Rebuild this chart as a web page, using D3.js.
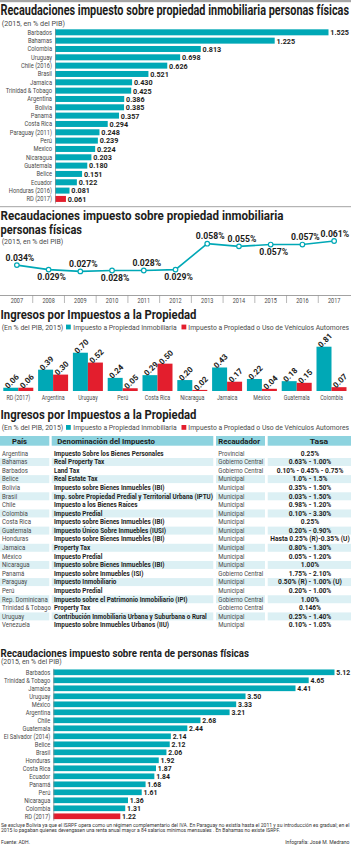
<!DOCTYPE html>
<html lang="es">
<head>
<meta charset="utf-8">
<title>Impuestos a la propiedad</title>
<script src="https://cdn.jsdelivr.net/npm/d3@7"></script>
<style>
  body { margin: 0; background: #fff; }
  svg { display: block; font-family: Roboto, "Liberation Sans", sans-serif; }
</style>
</head>
<body>
<svg id="drawing_region"></svg>
<script>
// Recaudaciones impuesto sobre propiedad inmobiliaria personas fisicas (2015, % PIB)
const propCountries = ['Barbados', 'Bahamas', 'Colombia', 'Uruguay', 'Chile (2016)', 'Brasil', 'Jamaica',
    'Trinidad & Tobago', 'Argentina', 'Bolivia', 'Panamá', 'Costa Rica', 'Paraguay (2011)', 'Perú', 'Mexico',
    'Nicaragua', 'Guatemala', 'Belice', 'Ecuador', 'Honduras (2016)', 'RD (2017)'];
const propValues = [1.525, 1.225, 0.813, 0.698, 0.626, 0.521, 0.430, 0.425, 0.386, 0.385, 0.357,
    0.294, 0.248, 0.239, 0.224, 0.203, 0.180, 0.151, 0.122, 0.081, 0.061];

// serie RD
const rdYears = ['2007', '2008', '2009', '2010', '2011', '2012', '2013', '2014', '2015', '2016', '2017'];
const rdValues = [0.034, 0.029, 0.027, 0.028, 0.028, 0.029, 0.058, 0.055, 0.057, 0.057, 0.061];
const rdLabelSide = ['up', 'down', 'up', 'down', 'up', 'down', 'up', 'up', 'down', 'up', 'up'];

// Ingresos por impuestos a la propiedad (2015, % PIB)
const ingCountries = ['RD (2017)', 'Argentina', 'Uruguay', 'Perú', 'Costa Rica', 'Nicaragua', 'Jamaica', 'México', 'Guatemala', 'Colombia'];
const ingInmobiliaria = [0.06, 0.39, 0.70, 0.24, 0.29, 0.20, 0.43, 0.22, 0.18, 0.81];
const ingVehiculos = [0.06, 0.30, 0.52, 0.05, 0.50, 0.02, 0.17, 0.04, 0.15, 0.07];
const ingSeries = ['Impuesto a Propiedad Inmobiliaria', 'Impuesto a Propiedad o Uso de Vehículos Automores'];

// tabla
const tableHeader = ['País', 'Denominación del Impuesto', 'Recaudador', 'Tasa'];
const tablePais = ['Argentina', 'Bahamas', 'Barbados', 'Belice', 'Bolivia', 'Brasil', 'Chile', 'Colombia',
    'Costa Rica', 'Guatemala', 'Honduras', 'Jamaica', 'México', 'Nicaragua', 'Panamá', 'Paraguay', 'Perú',
    'Rep. Dominicana', 'Trinidad & Tobago', 'Uruguay', 'Venezuela'];
const tableImpuesto = ['Impuesto Sobre los Bienes Personales', 'Real Property Tax', 'Land Tax', 'Real Estate Tax',
    'Impuesto sobre Bienes Inmuebles (IBI)', 'Imp. sobre Propiedad Predial y Territorial Urbana (IPTU)',
    'Impuesto a los Bienes Raíces', 'Impuesto Predial', 'Impuesto sobre Bienes Inmuebles (IBI)',
    'Impuesto Único Sobre Inmuebles (IUSI)', 'Impuesto sobre Bienes Inmuebles (IBI)', 'Property Tax',
    'Impuesto Predial', 'Impuesto sobre Bienes Inmuebles (IBI)', 'Impuesto sobre Inmuebles (ISI)',
    'Impuesto Inmobiliario', 'Impuesto Predial', 'Impuesto sobre el Patrimonio Inmobiliario (IPI)',
    'Property Tax', 'Contribución Inmobiliaria Urbana y Suburbana o Rural', 'Impuesto sobre Inmuebles Urbanos (IIU)'];
const tableRecaudador = ['Provincial', 'Gobierno Central', 'Gobierno Central', 'Municipal', 'Municipal', 'Municipal',
    'Municipal', 'Municipal', 'Municipal', 'Municipal', 'Municipal', 'Municipal', 'Municipal', 'Municipal',
    'Gobierno Central', 'Municipal', 'Municipal', 'Gobierno Central', 'Gobierno Central', 'Municipal', 'Municipal'];
const tableTasa = ['0.25%', '0.63% - 1.00%', '0.10% - 0.45% - 0.75%', '1.0% - 1.5%', '0.35% - 1.50%', '0.03% - 1.50%',
    '0.98% - 1.20%', '0.10% - 3.30%', '0.25%', '0.20% - 0.90%', 'Hasta 0.25% (R)-0.35% (U)', '0.80% - 1.30%',
    '0.05% - 1.20%', '1.00%', '1.75% - 2.10%', '0.50% (R) - 1.00% (U)', '0.20% - 1.00%', '1.00%', '0.146%',
    '0.25% - 1.40%', '0.10% - 1.05%'];

// Recaudaciones impuesto sobre renta de personas fisicas (2015, % PIB)
const rentaCountries = ['Barbados', 'Trinidad & Tobago', 'Jamaica', 'Uruguay', 'México', 'Argentina', 'Chile',
    'Guatemala', 'El Salvador (2014)', 'Belice', 'Brasil', 'Honduras', 'Costa Rica', 'Ecuador', 'Panamá', 'Perú',
    'Nicaragua', 'Colombia', 'RD (2017)'];
const rentaValues = [5.12, 4.65, 4.41, 3.50, 3.33, 3.21, 2.68, 2.44, 2.14, 2.12, 2.06, 1.92, 1.87, 1.84, 1.68,
    1.61, 1.36, 1.31, 1.22];

const W = 351, H = 854;
const TEAL = '#00a8b6', RED = '#e31e2d', INK = '#1d1d1b', GREY = '#4a4a4a';
const HIGHLIGHT = 'RD (2017)';

const svg = d3.select('#drawing_region')
    .attr('width', W)
    .attr('height', H);

// narrow the glyphs a bit, the original uses a condensed face
function squeeze(sel, k) {
    sel.each(function () {
        const w = this.getComputedTextLength();
        d3.select(this).attr('textLength', w * k).attr('lengthAdjust', 'spacingAndGlyphs');
    });
    return sel;
}

function addText(x, y, str, o) {
    const t = svg.append('text')
        .attr('x', x)
        .attr('y', y)
        .attr('font-size', o.size)
        .attr('font-weight', o.weight || 'normal')
        .attr('fill', o.fill || INK)
        .attr('text-anchor', o.anchor || 'start')
        .text(str);
    if (o.width) t.attr('textLength', o.width).attr('lengthAdjust', 'spacingAndGlyphs');
    return t;
}

class HBarChart {

    constructor(config, names, values) {
        this.config = config;
        this.data = names.map((n, i) => ({ name: n, value: values[i] }));
        this.init();
    }

    init() {
        let self = this;
        const c = self.config;

        self.yscale = d3.scaleBand()
            .domain(self.data.map(d => d.name))
            .range([c.top, c.bottom])
            .paddingInner(c.pad)
            .paddingOuter(c.pad / 2);

        self.xscale = d3.scaleLinear()
            .domain([0, d3.max(self.data, d => d.value)])
            .range([c.left, c.right]);

        self.chart = svg.append('g');
    }

    render() {
        let self = this;
        const c = self.config;

        self.chart.selectAll('rect')
            .data(self.data)
            .join('rect')
            .attr('x', self.xscale(0))
            .attr('y', d => self.yscale(d.name))
            .attr('width', d => self.xscale(d.value) - self.xscale(0))
            .attr('height', self.yscale.bandwidth())
            .attr('fill', d => d.name === HIGHLIGHT ? RED : TEAL);

        const vals = self.chart.selectAll('text.value')
            .data(self.data)
            .join('text')
            .attr('class', 'value')
            .attr('x', d => self.xscale(d.value) + 1.8)
            .attr('y', d => self.yscale(d.name) + self.yscale.bandwidth() / 2)
            .attr('dy', '0.36em')
            .attr('font-size', c.valueSize)
            .attr('font-weight', 'bold')
            .attr('fill', INK)
            .text(d => d3.format(c.format)(d.value));
        squeeze(vals, c.valueSqueeze);

        const ag = self.chart.append('g')
            .attr('transform', `translate(${self.xscale(0)},0)`)
            .call(d3.axisLeft(self.yscale).tickSize(0).tickSizeOuter(0).tickPadding(3))
            .attr('font-family', null)
            .attr('font-size', null);
        ag.select('.domain').attr('stroke', '#8a8a8a').attr('stroke-width', 0.7);
        const ticks = ag.selectAll('.tick text')
            .attr('font-size', c.labelSize)
            .attr('fill', GREY);
        squeeze(ticks, c.labelSqueeze);
    }
}

// top rule
svg.append('rect').attr('x', 0).attr('y', 0).attr('width', W).attr('height', 2.2).attr('fill', '#a6a6a6');

// ---------- chart 1
addText(0.5, 15, 'Recaudaciones impuesto sobre propiedad inmobiliaria personas físicas', { size: 14, weight: 'bold', width: 348.5 });
addText(1.7, 25.6, '(2015, en % del PIB)', { size: 7, fill: GREY, width: 63.3 });

const propChart = new HBarChart({
    top: 28.15, bottom: 203.1, left: 55, right: 328.5, pad: 0.28,
    format: '.3f', valueSize: 8, valueSqueeze: 0.9, labelSize: 7, labelSqueeze: 0.82
}, propCountries, propValues);
propChart.render();

svg.append('line')
    .attr('x1', 0).attr('x2', W).attr('y1', 206.7).attr('y2', 206.7)
    .attr('stroke', '#8a8a8a').attr('stroke-width', 0.8);

// ---------- chart 2 : serie RD
addText(0.5, 220, 'Recaudaciones impuesto sobre propiedad inmobiliaria', { size: 12.2, weight: 'bold', width: 283 });
addText(0.5, 233.5, 'personas físicas', { size: 12.2, weight: 'bold', width: 81.5 });
addText(1.7, 243.6, '(2015, en % del PIB)', { size: 7, fill: GREY, width: 61.6 });

const lx = d3.scaleBand().domain(rdYears).range([1, 350]);
const ly = d3.scaleLinear().domain([0, d3.max(rdValues)]).range([295.5, 241]);
const rdData = rdYears.map((y, i) => ({ year: y, value: rdValues[i], side: rdLabelSide[i] }));
const cx = d => lx(d.year) + lx.bandwidth() / 2;

svg.append('line')
    .attr('x1', 0).attr('x2', W).attr('y1', 295.5).attr('y2', 295.5)
    .attr('stroke', '#8a8a8a').attr('stroke-width', 0.8);
svg.append('g').selectAll('line')
    .data(rdYears.slice(1))
    .join('line')
    .attr('x1', d => lx(d)).attr('x2', d => lx(d))
    .attr('y1', 295.5).attr('y2', 303)
    .attr('stroke', '#8a8a8a').attr('stroke-width', 0.6);

const lax = svg.append('g')
    .attr('transform', 'translate(0,295.5)')
    .call(d3.axisBottom(lx).tickSize(0).tickPadding(2.6))
    .attr('font-family', null)
    .attr('font-size', null);
lax.select('.domain').remove();
squeeze(lax.selectAll('.tick text').attr('font-size', 6.5).attr('fill', GREY), 0.85);

const line = d3.line()
    .x(cx)
    .y(d => ly(d.value));

svg.append('path')
    .attr('d', line(rdData))
    .attr('fill', 'none')
    .attr('stroke', TEAL)
    .attr('stroke-width', 1.6);

svg.append('g').selectAll('circle')
    .data(rdData)
    .join('circle')
    .attr('cx', cx)
    .attr('cy', d => ly(d.value))
    .attr('r', 2.3)
    .attr('fill', '#fff')
    .attr('stroke', TEAL)
    .attr('stroke-width', 1.2);

const rdLabels = svg.append('g').selectAll('text')
    .data(rdData)
    .join('text')
    .attr('x', d => cx(d) + 3)
    .attr('y', d => d.side === 'up' ? ly(d.value) - 4.5 : ly(d.value) + 10.6)
    .attr('text-anchor', 'middle')
    .attr('font-size', 9)
    .attr('font-weight', 'bold')
    .attr('fill', INK)
    .text(d => d3.format('.3f')(d.value) + '%');
squeeze(rdLabels, 0.96);
rdLabels.each(function () {
    const b = this.getBBox();
    if (b.x + b.width > 349.5) d3.select(this).attr('x', +d3.select(this).attr('x') - (b.x + b.width - 349.5));
});

// ---------- chart 3 : ingresos por impuestos a la propiedad
function legend(y) {
    addText(1.7, y, '(En % del PIB, 2015)', { size: 7, fill: GREY, width: 61.6 });
    svg.append('rect').attr('x', 66).attr('y', y - 5.2).attr('width', 4.8).attr('height', 4.8).attr('fill', TEAL);
    addText(73.3, y, ingSeries[0], { size: 7, fill: GREY, width: 103.4 });
    svg.append('rect').attr('x', 181.5).attr('y', y - 5.2).attr('width', 4.8).attr('height', 4.8).attr('fill', RED);
    addText(188.3, y, ingSeries[1], { size: 7, fill: GREY, width: 160.7 });
}

addText(0.5, 319.3, 'Ingresos por Impuestos a la Propiedad', { size: 12.5, weight: 'bold', width: 196 });
legend(329.8);

const gx0 = d3.scaleBand().domain(ingCountries).range([0.9, 348.9]).paddingInner(0.138).paddingOuter(0.069);
const gx1 = d3.scaleBand().domain(['inmob', 'vehic']).range([0, gx0.bandwidth()]);
const gy = d3.scaleLinear().domain([0, d3.max(ingInmobiliaria.concat(ingVehiculos))]).range([391, 346.7]);
const gColor = d3.scaleOrdinal().domain(['inmob', 'vehic']).range([TEAL, RED]);

const ingData = ingCountries.map((c, i) => ({
    country: c,
    bars: [{ key: 'inmob', value: ingInmobiliaria[i] }, { key: 'vehic', value: ingVehiculos[i] }]
}));

const groups = svg.append('g').selectAll('g')
    .data(ingData)
    .join('g')
    .attr('transform', d => `translate(${gx0(d.country)},0)`);

groups.selectAll('rect')
    .data(d => d.bars)
    .join('rect')
    .attr('x', d => gx1(d.key))
    .attr('y', d => gy(d.value))
    .attr('width', gx1.bandwidth())
    .attr('height', d => gy(0) - gy(d.value))
    .attr('fill', d => gColor(d.key));

groups.selectAll('text')
    .data(d => d.bars)
    .join('text')
    .attr('transform', d => `translate(${gx1(d.key) + gx1.bandwidth() / 2 + 1},${gy(d.value) - 6.5}) rotate(-45)`)
    .attr('text-anchor', 'middle')
    .attr('dy', '0.36em')
    .attr('font-size', 8)
    .attr('font-weight', 'bold')
    .attr('fill', INK)
    .text(d => d3.format('.2f')(d.value));

const gax = svg.append('g')
    .attr('transform', `translate(0,${gy(0)})`)
    .call(d3.axisBottom(gx0).tickSize(0).tickPadding(4))
    .attr('font-family', null)
    .attr('font-size', null);
gax.select('.domain').remove();
squeeze(gax.selectAll('.tick text').attr('font-size', 6.5).attr('fill', GREY), 0.82);

// ---------- tabla
addText(0.5, 419, 'Ingresos por Impuestos a la Propiedad', { size: 12.5, weight: 'bold', width: 196 });
legend(430.2);

const colX = [[0, 49.3], [51.7, 213.3], [216, 265], [267.7, 351]];
const headerTextX = [12, 57.3, 218.3, 319];
const headerWidth = [15, 97.7, 41.7, 18.3];

svg.append('g').selectAll('rect')
    .data(colX)
    .join('rect')
    .attr('x', d => d[0]).attr('y', 436)
    .attr('width', d => d[1] - d[0]).attr('height', 9.7)
    .attr('fill', '#8dd3df');

tableHeader.forEach((h, i) => {
    addText(headerTextX[i], 443.8, h, {
        size: 8, weight: 'bold', width: headerWidth[i], anchor: i === 3 ? 'middle' : 'start'
    });
});

const rowY = d3.scaleBand()
    .domain(d3.range(tablePais.length))
    .range([449.1, 449.1 + 8.58 * tablePais.length]);

const rows = tablePais.map((p, i) => ({ i: i, cells: [p, tableImpuesto[i], tableRecaudador[i], tableTasa[i]] }));

const rowG = svg.append('g').selectAll('g')
    .data(rows)
    .join('g')
    .attr('transform', d => `translate(0,${rowY(d.i)})`);

rowG.filter(d => d.i % 2 === 1).selectAll('rect')
    .data(colX)
    .join('rect')
    .attr('x', d => d[0]).attr('y', 0.3)
    .attr('width', d => d[1] - d[0]).attr('height', rowY.bandwidth() - 0.6)
    .attr('fill', '#dcf0f4');

const cellStyle = [
    { x: 2, anchor: 'start', weight: 'normal', fill: GREY, ref: 18, target: 49 },
    { x: 54, anchor: 'start', weight: 'bold', fill: INK, ref: 5, target: 159 },
    { x: 218.3, anchor: 'start', weight: 'normal', fill: GREY, ref: 1, target: 45 },
    { x: 310, anchor: 'middle', weight: 'bold', fill: INK, ref: 2, target: 66.7 }
];

cellStyle.forEach((s, col) => {
    const cells = rowG.append('text')
        .attr('x', s.x)
        .attr('y', rowY.bandwidth() / 2 + 2.3)
        .attr('text-anchor', s.anchor)
        .attr('font-size', 6.5)
        .attr('font-weight', s.weight)
        .attr('fill', s.fill)
        .text(d => d.cells[col]);
    const k = s.target / cells.nodes()[s.ref].getComputedTextLength();
    squeeze(cells, k);
});

// ---------- chart 4 : renta
addText(0.5, 656.7, 'Recaudaciones impuesto sobre renta de personas físicas', { size: 11.8, weight: 'bold', width: 248.5 });
addText(1, 664.2, '(2015, en % del PIB)', { size: 7, fill: GREY, width: 60.7 });

const rentaChart = new HBarChart({
    top: 668.3, bottom: 820.3, left: 53.3, right: 334.5, pad: 0.29,
    format: '.2f', valueSize: 8, valueSqueeze: 0.86, labelSize: 7, labelSqueeze: 0.82
}, rentaCountries, rentaValues);
rentaChart.render();

// notas
addText(1, 826.6, 'Se excluye Bolivia ya que el ISRPF opera como un régimen complementario del IVA.  En Paraguay no existía hasta el  2011 y su introducción es gradual; en el',
    { size: 4.7, fill: '#333', width: 348.5 });
addText(1, 831.8, '2015 lo pagaban quienes devengasen una renta anual mayor a  84 salarios mínimos mensuales . En Bahamas no existe ISRPF.',
    { size: 4.7, fill: '#333', width: 279 });
addText(1, 843.8, 'Fuente: ADH.', { size: 5.5, fill: '#333', width: 29 });
addText(349.5, 843.8, 'Infografía: José M. Medrano', { size: 5.5, fill: '#333', width: 64.3, anchor: 'end' });
</script>
</body>
</html>
